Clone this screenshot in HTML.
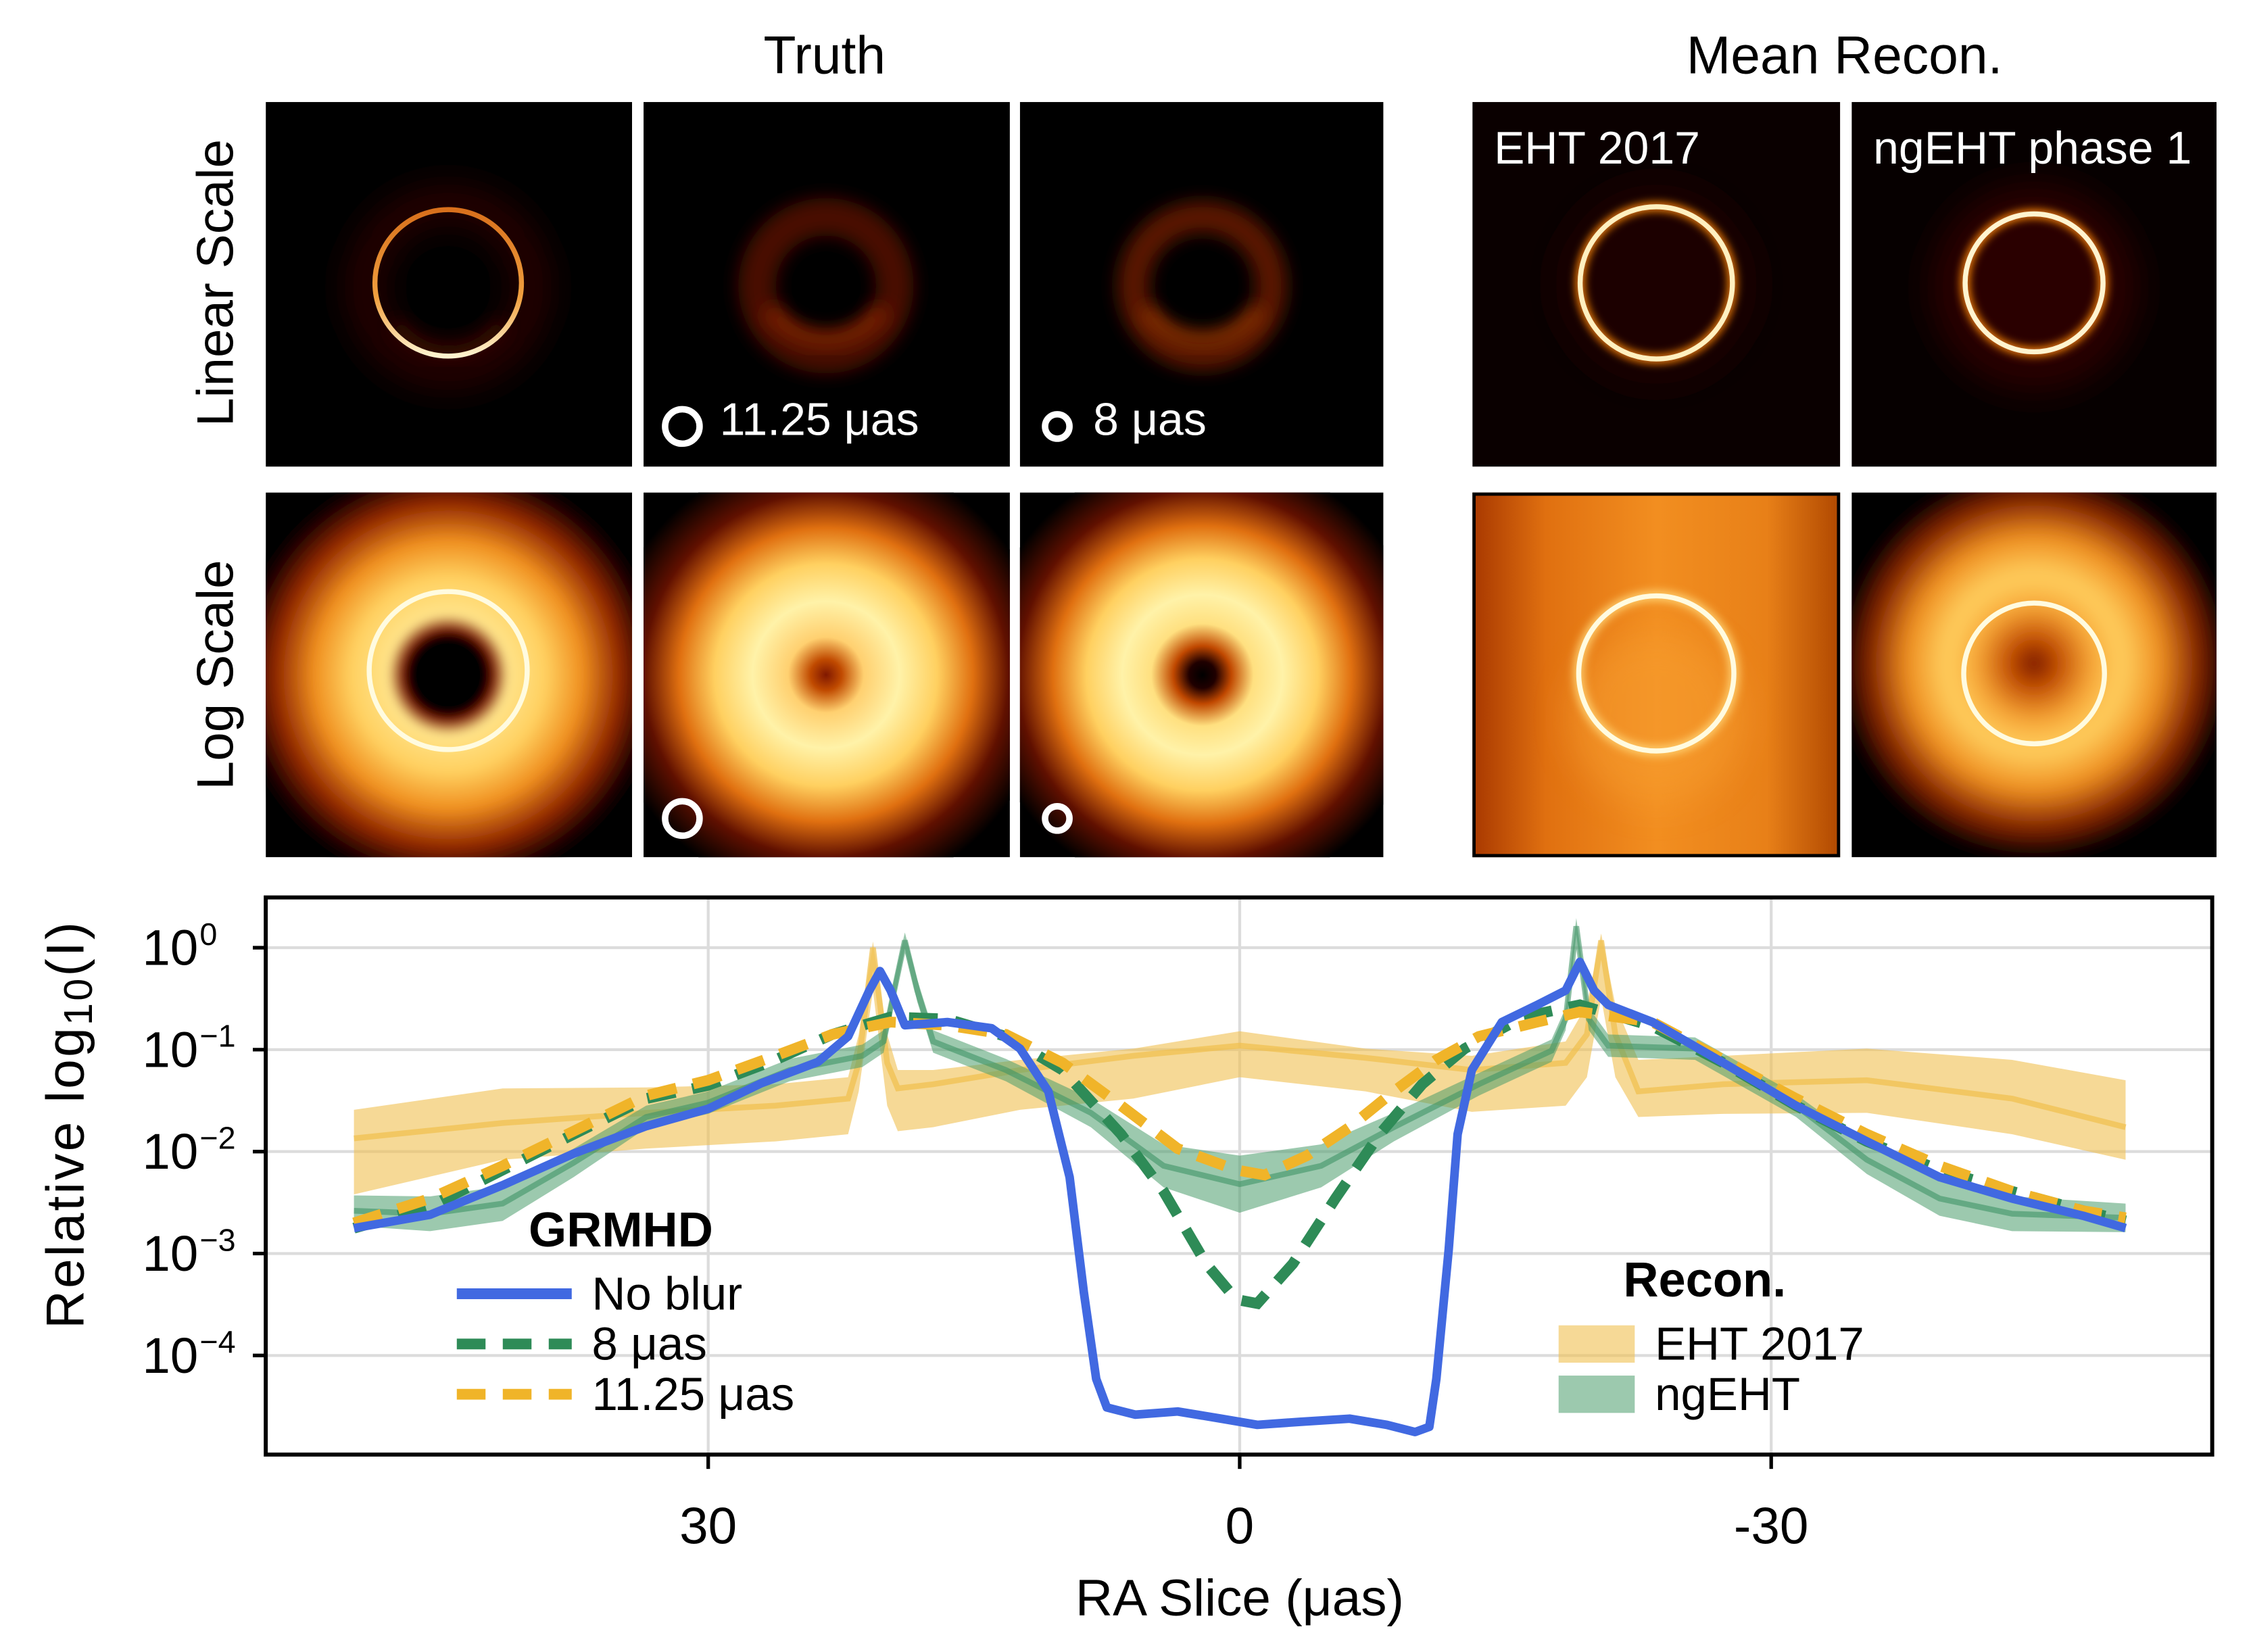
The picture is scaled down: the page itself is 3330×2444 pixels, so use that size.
<!DOCTYPE html>
<html><head><meta charset="utf-8"><style>
html,body{margin:0;padding:0;background:#fff;}
svg{display:block;font-family:"Liberation Sans",sans-serif;}
</style></head><body>
<svg id="fig" width="3330" height="2444" viewBox="0 0 1567 1150.5" preserveAspectRatio="none" xmlns="http://www.w3.org/2000/svg">
<defs>
<filter id="b3" x="-50%" y="-50%" width="200%" height="200%"><feGaussianBlur stdDeviation="3"/></filter>
<filter id="b6" x="-50%" y="-50%" width="200%" height="200%"><feGaussianBlur stdDeviation="6"/></filter>
<filter id="b12" x="-50%" y="-50%" width="200%" height="200%"><feGaussianBlur stdDeviation="12"/></filter>
<linearGradient id="ringA" x1="0" y1="0" x2="0" y2="1"><stop offset="0" stop-color="#d8701c"/><stop offset="0.6" stop-color="#f0a040"/><stop offset="1" stop-color="#fff4d0"/></linearGradient>
<radialGradient id="l1" cx="312" cy="470" r="150" gradientUnits="userSpaceOnUse">
<stop offset="0" stop-color="#000"/><stop offset="0.17" stop-color="#000"/><stop offset="0.21" stop-color="#7a1200"/><stop offset="0.28" stop-color="#ffe48a"/><stop offset="0.45" stop-color="#ffd060"/><stop offset="0.62" stop-color="#f09020"/><stop offset="0.8" stop-color="#902800"/><stop offset="0.94" stop-color="#1a0000"/><stop offset="1" stop-color="#000"/></radialGradient>
<radialGradient id="l2" cx="575" cy="470" r="155" gradientUnits="userSpaceOnUse">
<stop offset="0" stop-color="#801800"/><stop offset="0.07" stop-color="#c04a00"/><stop offset="0.17" stop-color="#ffd070"/><stop offset="0.33" stop-color="#fff2a8"/><stop offset="0.5" stop-color="#ffd060"/><stop offset="0.66" stop-color="#e07010"/><stop offset="0.82" stop-color="#601000"/><stop offset="1" stop-color="#000"/></radialGradient>
<radialGradient id="l3" cx="837" cy="470" r="155" gradientUnits="userSpaceOnUse">
<stop offset="0" stop-color="#000"/><stop offset="0.06" stop-color="#200000"/><stop offset="0.13" stop-color="#c04800"/><stop offset="0.23" stop-color="#ffe080"/><stop offset="0.36" stop-color="#fff2a8"/><stop offset="0.52" stop-color="#ffd060"/><stop offset="0.67" stop-color="#e07010"/><stop offset="0.83" stop-color="#601000"/><stop offset="1" stop-color="#000"/></radialGradient>
<linearGradient id="l4" x1="0" y1="0" x2="1" y2="0"><stop offset="0" stop-color="#a83800"/><stop offset="0.2" stop-color="#e07010"/><stop offset="0.5" stop-color="#f28e20"/><stop offset="0.8" stop-color="#e88018"/><stop offset="1" stop-color="#b04800"/></linearGradient>
<radialGradient id="l5" cx="1416" cy="462" r="135" gradientUnits="userSpaceOnUse">
<stop offset="0" stop-color="#6a1000"/><stop offset="0.12" stop-color="#c04a00"/><stop offset="0.3" stop-color="#f8a838"/><stop offset="0.45" stop-color="#ffd060"/><stop offset="0.65" stop-color="#f09020"/><stop offset="0.85" stop-color="#802000"/><stop offset="1" stop-color="#000"/></radialGradient>
<clipPath id="c1"><rect x="185" y="71" width="255" height="254"/></clipPath>
<clipPath id="c2"><rect x="448" y="71" width="255" height="254"/></clipPath>
<clipPath id="c3"><rect x="710" y="71" width="253" height="254"/></clipPath>
<clipPath id="c4"><rect x="1025" y="71" width="256" height="254"/></clipPath>
<clipPath id="c5"><rect x="1289" y="71" width="254" height="254"/></clipPath>
<clipPath id="d1"><rect x="185" y="343" width="255" height="254"/></clipPath>
<clipPath id="d2"><rect x="448" y="343" width="255" height="254"/></clipPath>
<clipPath id="d3"><rect x="710" y="343" width="253" height="254"/></clipPath>
<clipPath id="d4"><rect x="1025" y="343" width="256" height="254"/></clipPath>
<clipPath id="d5"><rect x="1289" y="343" width="254" height="254"/></clipPath>
<clipPath id="plotclip"><rect x="186" y="626" width="1353" height="386"/></clipPath>
</defs>

<text x="574" y="51" font-size="37" text-anchor="middle">Truth</text>
<text x="1284" y="51" font-size="37" text-anchor="middle">Mean Recon.</text>
<text transform="translate(162,197) rotate(-90)" font-size="36" text-anchor="middle">Linear Scale</text>
<text transform="translate(162,470) rotate(-90)" font-size="36" text-anchor="middle">Log Scale</text>

<g clip-path="url(#c1)">
<rect x="185" y="71" width="255" height="254" fill="#000"/>
<circle cx="312" cy="200" r="58" fill="none" stroke="#2a0500" stroke-width="24" filter="url(#b12)"/>
<path d="M275 225 A45 45 0 0 0 350 225" fill="none" stroke="#3a0a00" stroke-width="10" filter="url(#b6)"/>
<circle cx="312" cy="197" r="51" fill="none" stroke="url(#ringA)" stroke-width="3.5"/>
</g>
<g clip-path="url(#c2)">
<rect x="448" y="71" width="255" height="254" fill="#000"/>
<circle cx="575" cy="199" r="48" fill="none" stroke="#4a0e00" stroke-width="26" filter="url(#b6)"/>
<path d="M535 215 A48 48 0 0 0 615 215" fill="none" stroke="#7a2400" stroke-width="12" filter="url(#b6)"/>
<circle cx="475" cy="297" r="12" fill="none" stroke="#fff" stroke-width="4.5"/>
<text x="501" y="303" font-size="32" fill="#fff">11.25 μas</text>
</g>
<g clip-path="url(#c3)">
<rect x="710" y="71" width="253" height="254" fill="#000"/>
<circle cx="837" cy="199" r="48" fill="none" stroke="#5a1400" stroke-width="22" filter="url(#b6)"/>
<path d="M797 215 A48 48 0 0 0 877 215" fill="none" stroke="#8a3000" stroke-width="10" filter="url(#b6)"/>
<circle cx="736" cy="297" r="8.5" fill="none" stroke="#fff" stroke-width="4.5"/>
<text x="761" y="303" font-size="32" fill="#fff">8 μas</text>
</g>
<g clip-path="url(#c4)">
<rect x="1025" y="71" width="256" height="254" fill="#0a0000"/>
<circle cx="1153" cy="198" r="70" fill="#1c0300" filter="url(#b12)"/>
<circle cx="1153" cy="197" r="53" fill="none" stroke="#ff8a10" stroke-width="6" filter="url(#b3)"/>
<circle cx="1153" cy="197" r="53" fill="none" stroke="#fff0c0" stroke-width="3.5"/>
<text x="1040" y="114" font-size="32" fill="#fff">EHT 2017</text>
</g>
<g clip-path="url(#c5)">
<rect x="1289" y="71" width="254" height="254" fill="#060000"/>
<circle cx="1416" cy="200" r="72" fill="#2a0600" filter="url(#b12)"/>
<circle cx="1416" cy="197" r="48" fill="none" stroke="#ff8a10" stroke-width="6" filter="url(#b3)"/>
<circle cx="1416" cy="197" r="48" fill="none" stroke="#fff4d0" stroke-width="3.5"/>
<text x="1304" y="114" font-size="32" fill="#fff">ngEHT phase 1</text>
</g>

<g clip-path="url(#d1)">
<rect x="185" y="343" width="255" height="254" fill="#000"/>
<ellipse cx="312" cy="470" rx="150" ry="150" fill="url(#l1)" filter="url(#b3)"/>
<circle cx="312" cy="467" r="55" fill="none" stroke="#fffbe0" stroke-width="3.5"/>
</g>
<g clip-path="url(#d2)">
<rect x="448" y="343" width="255" height="254" fill="#000"/>
<circle cx="575" cy="470" r="155" fill="url(#l2)"/>
<circle cx="475" cy="570" r="12" fill="none" stroke="#fff" stroke-width="4.5"/>
</g>
<g clip-path="url(#d3)">
<rect x="710" y="343" width="253" height="254" fill="#000"/>
<circle cx="837" cy="470" r="155" fill="url(#l3)"/>
<circle cx="736" cy="570" r="8.5" fill="none" stroke="#fff" stroke-width="4.5"/>
</g>
<g clip-path="url(#d4)">
<rect x="1025" y="343" width="256" height="254" fill="url(#l4)"/>
<circle cx="1153" cy="500" r="60" fill="#f8a030" opacity="0.5" filter="url(#b12)"/>
<rect x="1026" y="344" width="254" height="252" fill="none" stroke="#000" stroke-width="2.5"/>
<circle cx="1153" cy="469" r="54" fill="none" stroke="#ffd070" stroke-width="7" filter="url(#b3)"/>
<circle cx="1153" cy="469" r="54" fill="none" stroke="#fffbe0" stroke-width="3.5"/>
</g>
<g clip-path="url(#d5)">
<rect x="1289" y="343" width="254" height="254" fill="#000"/>
<circle cx="1416" cy="462" r="135" fill="url(#l5)" filter="url(#b6)"/>
<circle cx="1416" cy="469" r="49" fill="none" stroke="#fffbe0" stroke-width="3.5"/>
</g>

<g id="chart"></g>
</svg>
<script>
const ticksX = [30, 0, -30];
const tickLabelsX = ["30", "0", "-30"];
const ticksY = [0, -1, -2, -3, -4];
const tickSupY = ["0", "−1", "−2", "−3", "−4"];

const blurX = [50,45.7,41.6,37.6,33.5,30,27,23.8,22.1,20.9,20.3,19.7,18.9,16.5,14,12.4,10.8,9.6,8.8,8.1,7.5,5.9,3.5,1.05,-1,-3.4,-6.2,-8.3,-9.9,-10.7,-11.1,-11.8,-12.3,-13.1,-14.8,-16.8,-18.4,-19.2,-20,-20.8,-23.3,-27.3,-31.4,-35.4,-39.5,-43.6,-47.6,-50];
const noBlur = [-2.75,-2.62,-2.33,-2.02,-1.75,-1.58,-1.33,-1.12,-0.87,-0.42,-0.23,-0.42,-0.76,-0.73,-0.79,-0.99,-1.41,-2.25,-3.38,-4.23,-4.51,-4.58,-4.55,-4.62,-4.68,-4.65,-4.62,-4.68,-4.75,-4.70,-4.23,-2.96,-1.83,-1.20,-0.73,-0.56,-0.42,-0.14,-0.42,-0.56,-0.73,-1.13,-1.55,-1.90,-2.25,-2.46,-2.63,-2.75];

const blur8X = [50,45.7,41.6,37.6,33.5,30,26.2,23,19.7,16.5,13.2,10,6.7,4.3,1.9,0.2,-1,-3,-5.4,-7.9,-10.3,-12.7,-16,-19.2,-23.3,-27.3,-31.4,-35.4,-39.5,-43.6,-47.6,-50];
const blur8 = [-2.75,-2.54,-2.18,-1.83,-1.48,-1.35,-1.10,-0.85,-0.68,-0.70,-0.87,-1.20,-1.83,-2.39,-3.10,-3.45,-3.49,-3.10,-2.46,-1.83,-1.34,-0.99,-0.68,-0.56,-0.77,-1.13,-1.55,-1.90,-2.18,-2.39,-2.58,-2.68];

const blur11X = [50,45.7,41.6,37.6,33.5,30,26.2,23,19.7,16.5,13.2,10,6.7,3.5,0.2,-1.4,-3.8,-6.2,-8.7,-11.1,-13.5,-16.8,-19.2,-23.3,-27.3,-31.4,-35.4,-39.5,-43.6,-47.6,-50];
const blur11 = [-2.70,-2.46,-2.14,-1.80,-1.45,-1.30,-1.06,-0.85,-0.73,-0.76,-0.85,-1.13,-1.55,-1.97,-2.18,-2.23,-2.04,-1.76,-1.41,-1.10,-0.87,-0.73,-0.63,-0.73,-1.10,-1.48,-1.83,-2.14,-2.39,-2.58,-2.65];

const ehtX = [50,41.6,33.5,26.2,22.1,21.5,20.7,19.9,19.3,17.3,12.4,6,0,-7.1,-13.1,-18.4,-19.6,-20.4,-21.2,-22.5,-27.3,-35.4,-43.6,-50];
const ehtMean = [-1.87,-1.72,-1.62,-1.55,-1.48,-1.13,0,-1.13,-1.38,-1.34,-1.20,-1.06,-0.96,-1.08,-1.20,-1.13,-0.85,0.07,-0.85,-1.41,-1.34,-1.30,-1.48,-1.76];
const ehtUpper = [-1.59,-1.38,-1.37,-1.34,-1.27,-0.85,0.06,-0.85,-1.20,-1.20,-1.10,-0.99,-0.82,-0.99,-1.06,-0.92,-0.56,0.14,-0.56,-1.10,-1.06,-0.99,-1.10,-1.30];
const ehtLower = [-2.42,-2.08,-1.97,-1.90,-1.83,-1.41,-0.42,-1.55,-1.80,-1.76,-1.59,-1.48,-1.27,-1.41,-1.61,-1.55,-1.27,-0.49,-1.27,-1.66,-1.63,-1.62,-1.83,-2.08];

const ngX = [50,45.7,41.6,37.6,33.5,30,25.4,21.3,20.1,19.5,18.9,18.2,17.3,13.2,8.4,4.3,0,-4.6,-8.7,-13.5,-17.6,-18.4,-19,-19.7,-20.8,-25.7,-31.4,-35.4,-39.5,-43.6,-50];
const ngMean = [-2.58,-2.61,-2.51,-2.11,-1.66,-1.52,-1.20,-1.06,-0.92,-0.42,0.07,-0.42,-0.92,-1.20,-1.62,-2.14,-2.32,-2.14,-1.76,-1.34,-1.01,-0.70,0.21,-0.70,-0.96,-0.99,-1.55,-2.08,-2.46,-2.61,-2.65];
const ngSpread = [0.15,0.17,0.17,0.14,0.11,0.11,0.11,0.11,0.11,0.11,0.08,0.11,0.11,0.11,0.14,0.21,0.28,0.21,0.14,0.11,0.11,0.11,0.08,0.11,0.11,0.11,0.11,0.14,0.17,0.17,0.14];

const NS = "http://www.w3.org/2000/svg";
const chart = document.getElementById("chart");
const AX = {left:185, right:1540, top:625, bottom:1013};
function X(v){ return 863 - v * 12.333; }
function Y(l){ return 660 - l * 71; }
function mk(tag, attrs, parent){
  const e = document.createElementNS(NS, tag);
  for (const k in attrs) e.setAttribute(k, attrs[k]);
  (parent || chart).appendChild(e);
  return e;
}
function linePath(xs, ys){ return xs.map((v,i)=>(i?"L":"M")+X(v).toFixed(1)+" "+Y(ys[i]).toFixed(1)).join(" "); }
function bandPath(xs, lo, hi){
  let d = xs.map((v,i)=>(i?"L":"M")+X(v).toFixed(1)+" "+Y(hi[i]).toFixed(1)).join(" ");
  for (let i = xs.length-1; i >= 0; i--) d += " L"+X(xs[i]).toFixed(1)+" "+Y(lo[i]).toFixed(1);
  return d + " Z";
}

ticksY.forEach((t,i)=>{
  const g = mk("line",{x1:AX.left,x2:AX.right,y1:Y(t),y2:Y(t),stroke:"#dcdcdc","stroke-width":2});
  
  
});
ticksX.forEach((t,i)=>{
  const g = mk("line",{x1:X(t),x2:X(t),y1:AX.top,y2:AX.bottom,stroke:"#dcdcdc","stroke-width":2});
  
  
});

const plot = mk("g",{"clip-path":"url(#plotclip)"});



const ehtBand = mk("path",{d:bandPath(ehtX, ehtLower, ehtUpper), fill:"#f0c050", "fill-opacity":0.6}, plot);


const ehtLine = mk("path",{d:linePath(ehtX, ehtMean), fill:"none", stroke:"#f0c050", "stroke-width":4, "stroke-opacity":0.75}, plot);



const ngLo = ngMean.map((m,i)=>m-ngSpread[i]);
const ngHi = ngMean.map((m,i)=>m+ngSpread[i]);
const ngBand = mk("path",{d:bandPath(ngX, ngLo, ngHi), fill:"#4a9c6c", "fill-opacity":0.55}, plot);


const ngLine = mk("path",{d:linePath(ngX, ngMean), fill:"none", stroke:"#3f9466", "stroke-width":4, "stroke-opacity":0.6}, plot);



const l8 = mk("path",{d:linePath(blur8X, blur8), fill:"none", stroke:"#2e8b57", "stroke-width":7.5, "stroke-dasharray":"20 12"}, plot);


const l11 = mk("path",{d:linePath(blur11X, blur11), fill:"none", stroke:"#f0b429", "stroke-width":7.5, "stroke-dasharray":"20 12"}, plot);


const lb = mk("path",{d:linePath(blurX, noBlur), fill:"none", stroke:"#4169e1", "stroke-width":6, "stroke-linejoin":"round"}, plot);



const frame = mk("rect",{x:AX.left,y:AX.top,width:AX.right-AX.left,height:AX.bottom-AX.top,fill:"none",stroke:"#000","stroke-width":2.8});



ticksY.forEach((t,i)=>{
  const tk = mk("line",{x1:AX.left-9,x2:AX.left,y1:Y(t),y2:Y(t),stroke:"#000","stroke-width":2.5});
  
  
  const tx = mk("text",{x:138,y:Y(t)+12,"font-size":35,"text-anchor":"end"});
  
  
  tx.textContent = "10";
  const sup = mk("text",{x:139,y:Y(t)-2,"font-size":22,"text-anchor":"start"});
  
  
  sup.textContent = tickSupY[i];
});
ticksX.forEach((t,i)=>{
  const tk = mk("line",{x1:X(t),x2:X(t),y1:AX.bottom,y2:AX.bottom+10,stroke:"#000","stroke-width":2.5});
  
  
  const tx = mk("text",{x:X(t),y:1075,"font-size":36,"text-anchor":"middle"});
  
  
  tx.textContent = tickLabelsX[i];
});

const xt = mk("text",{x:863,y:1125,"font-size":36,"text-anchor":"middle"});


xt.textContent = "RA Slice (μas)";
const yt = mk("text",{transform:"translate(58,783) rotate(-90)","font-size":37,"text-anchor":"middle","letter-spacing":"1.5"});


const t1 = mk("tspan",{}, yt); t1.textContent = "Relative log";
const t2 = mk("tspan",{"font-size":28,dy:6}, yt); t2.textContent = "10";
const t3 = mk("tspan",{dy:-6}, yt); t3.textContent = "(I)";

const g1 = mk("text",{x:368,y:868,"font-size":34,"font-weight":"bold"});


g1.textContent = "GRMHD";
const legLines = [["No blur","#4169e1",null,901,"legend-no-blur"],["8 μas","#2e8b57","20 12",936,"legend-8uas"],["11.25 μas","#f0b429","20 12",971,"legend-11uas"]];
legLines.forEach(L=>{
  const ln = mk("line",{x1:318,x2:398,y1:L[3],y2:L[3],stroke:L[1],"stroke-width":7.5});
  if (L[2]) ln.setAttribute("stroke-dasharray", L[2]);
  
  
  const tx = mk("text",{x:412,y:L[3]+11,"font-size":32.5});
  
  
  tx.textContent = L[0];
});
const g2 = mk("text",{x:1130,y:903,"font-size":34,"font-weight":"bold"});


g2.textContent = "Recon.";
const legPatches = [["EHT 2017","#f0c050",0.6,923,"legend-eht2017"],["ngEHT","#4a9c6c",0.55,958,"legend-ngeht"]];
legPatches.forEach(P=>{
  const r = mk("rect",{x:1085,y:P[3],width:53,height:26,fill:P[1],"fill-opacity":P[2]});
  
  
  const tx = mk("text",{x:1152,y:P[3]+24,"font-size":32.5});
  
  
  tx.textContent = P[0];
});
</script>
</body></html>
